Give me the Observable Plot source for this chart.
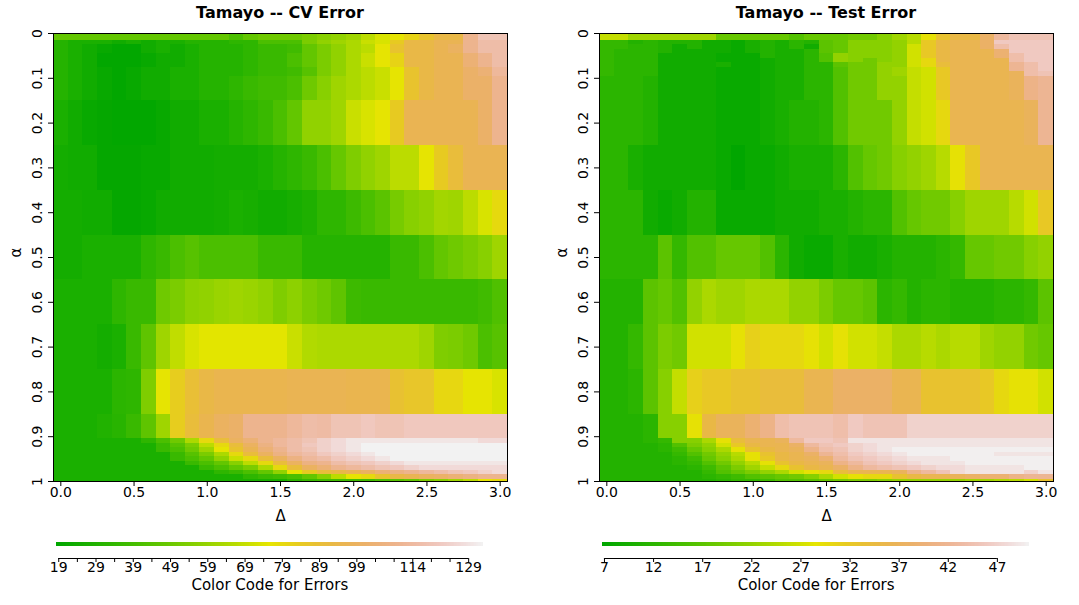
<!DOCTYPE html>
<html><head><meta charset="utf-8">
<script src="https://cdn.jsdelivr.net/npm/d3@7"></script>
<script src="https://cdn.jsdelivr.net/npm/@observablehq/plot@0.6"></script>
<style>
body{margin:0;background:#fff;width:1079px;height:605px;overflow:hidden;position:relative;font-family:"DejaVu Sans",sans-serif}
.panel{position:absolute;top:0;width:540px;height:605px}
.title{position:absolute;top:5px;left:0;width:560px;text-align:center;font:bold 16px "DejaVu Sans",sans-serif;line-height:1;color:#000}
.panel svg{position:absolute;left:0}
</style></head><body>
<div id="left" class="panel" style="left:0"></div>
<div id="right" class="panel" style="left:546px"></div>
<script>
// ---------- data ----------
const titles = ["Tamayo -- CV Error", "Tamayo -- Test Error"];
const deltas = [0,0.1,0.2,0.3,0.4,0.5,0.6,0.7,0.8,0.9,1,1.1,1.2,1.3,1.4,1.5,1.6,1.7,1.8,1.9,2,2.1,2.2,2.3,2.4,2.5,2.6,2.7,2.8,2.9,3];
const alphas = [0,0.01,0.02,0.03,0.04,0.05,0.06,0.07,0.08,0.09,0.1,0.2,0.3,0.4,0.5,0.6,0.7,0.8,0.9,0.91,0.92,0.93,0.94,0.95,0.96,0.97,0.98,0.99,1];
const xTicks = [0,0.5,1,1.5,2,2.5,3];
const yTicks = [0,0.1,0.2,0.3,0.4,0.5,0.6,0.7,0.8,0.9,1];
const yTickLabels = ["0","0.1","0.2","0.3","0.4","0.5","0.6","0.7","0.8","0.9","1"];
const cvRange = [18.4, 132.9];
const testRange = [6.8, 50.3];
const cvLegendTicks = [19,24,29,34,39,44,49,54,59,64,69,74,79,84,89,94,99,104,109,114,119,124,129];
const cvLegendLabels = [19,29,39,49,59,69,79,89,99,114,129];
const testLegendTicks = [7,12,17,22,27,32,37,42,47];
const testLegendLabels = [7,12,17,22,27,32,37,42,47];

// CV error, one row per alpha (top to bottom), one column per delta
const cvError = [
[47,47,47,47,47,47,47,47,47,47,47,47,41,47,50,50,50,53,56,58,61,67,73,76,81,87,93,93,110,119,119],
[47,47,47,47,47,47,47,47,47,47,47,47,41,47,50,50,50,53,56,58,61,67,73,76,81,87,93,93,110,119,119],
[30,27,27,27,24,27,24,27,27,30,30,30,33,33,41,41,41,53,58,61,64,70,73,84,93,93,96,96,110,116,116],
[30,27,24,21,19,19,24,27,24,27,30,30,30,33,36,36,38,47,53,58,64,67,76,87,93,93,96,99,110,116,116],
[30,27,24,21,19,19,24,27,24,27,30,30,30,33,36,36,38,47,53,58,64,67,76,87,93,93,96,99,110,116,116],
[30,27,24,19,19,19,21,24,24,27,30,30,30,33,36,36,41,47,53,58,64,70,76,81,93,93,96,96,104,110,116],
[30,27,24,19,19,19,21,24,24,27,30,30,30,33,36,36,41,47,53,58,64,70,76,81,93,93,96,96,104,110,116],
[30,27,24,19,19,19,21,24,24,27,30,30,30,33,36,36,41,47,53,58,64,70,76,81,93,93,96,96,104,110,116],
[30,27,24,21,19,21,24,24,27,27,30,30,30,33,36,36,38,44,53,58,64,67,70,76,87,93,96,96,101,104,113],
[30,27,24,21,19,21,24,24,27,27,30,30,30,33,36,36,38,44,53,58,64,67,70,76,87,93,96,96,101,104,113],
[30,27,24,21,19,21,24,24,27,27,30,30,33,36,38,38,41,50,56,61,64,67,70,76,87,93,96,96,101,101,110],
[27,24,21,20,19,19,19,21,24,24,27,27,30,33,36,41,47,58,58,61,70,73,76,84,96,96,96,96,96,101,110],
[25,24,24,20,20,20,21,21,24,24,24,25,25,25,27,30,33,36,41,48,54,58,61,67,67,76,84,90,96,96,96],
[25,25,24,24,20,20,21,24,24,24,24,25,27,26,24,24,26,28,33,33,37,41,45,52,56,58,62,61,67,73,79],
[25,25,27,27,27,27,33,36,41,44,41,41,41,41,36,36,36,30,30,30,30,30,30,36,36,41,47,50,53,56,61],
[27,27,27,27,33,36,36,50,53,57,58,60,61,60,58,54,57,53,50,46,37,36,36,36,36,36,36,36,36,38,42],
[27,27,27,25,27,36,46,61,68,73,75,75,75,75,75,75,70,65,64,64,64,64,64,64,64,61,54,53,50,41,44],
[27,27,27,27,32,33,54,76,83,89,93,95,95,95,95,95,96,96,96,96,95,95,95,88,86,86,80,80,76,76,73],
[27,27,27,29,31,36,46,61,83,90,95,99,101,110,110,110,113,116,115,119,119,121,119,119,121,121,121,121,121,121,121],
[27,27,27,27,27,27,33,41,50,64,79,90,99,104,110,113,116,119,124,127,130,130,130,130,130,130,130,130,130,127,127],
[27,27,27,27,27,27,27,36,44,53,67,79,90,99,107,113,116,121,124,127,130,133,133,133,133,133,133,133,133,133,133],
[27,27,27,27,27,27,27,36,41,50,61,76,87,96,104,110,116,119,124,127,130,133,133,133,133,133,133,133,133,133,133],
[27,27,27,27,27,27,27,27,36,44,53,64,79,90,99,107,113,116,121,124,127,130,133,133,133,133,133,133,133,133,133],
[27,27,27,27,27,27,27,27,36,41,47,58,70,79,90,99,107,113,116,121,124,127,130,133,133,133,133,133,133,133,133],
[27,27,27,27,27,27,27,27,27,36,41,47,56,67,79,90,99,107,110,116,119,121,124,127,130,130,130,130,130,130,130],
[27,27,27,27,27,27,27,27,27,27,36,41,47,53,64,79,90,99,104,110,113,116,119,121,124,127,127,127,127,127,127],
[27,27,27,27,27,27,27,27,27,27,27,33,36,41,47,58,76,84,90,93,96,99,104,107,110,113,116,119,121,124,127],
[27,27,27,27,27,27,27,27,27,27,27,27,27,33,36,38,41,47,56,67,76,79,87,93,96,99,101,104,107,110,110],
[27,27,27,27,27,27,27,27,27,27,27,27,27,27,27,27,33,36,38,38,38,38,41,44,47,53,56,61,67,76,79]
];

// Test error, same layout
const testError = [
[26,26,23,23,23,23,23,23,18,18,18,18,18,16,18,18,18,19,19,21,23,25,29,33,35,35,38,43,45,45,45],
[26,26,23,23,23,23,23,23,18,18,18,18,18,16,18,18,18,19,19,21,23,25,29,33,35,35,38,43,45,45,45],
[13,13,11,12,11,11,11,9,9,8,10,11,10,12,11,17,18,21,21,21,22,25,32,35,36,36,38,46,46,46,46],
[13,13,12,12,11,9,11,9,9,8,10,11,10,12,9,17,18,21,21,21,22,27,32,35,36,36,38,44,46,46,46],
[13,12,12,12,11,9,9,9,9,8,10,11,10,10,12,17,18,21,21,21,22,27,32,35,36,36,36,39,46,46,46],
[13,12,12,12,9,9,9,9,8,8,8,11,10,10,12,16,22,21,21,21,22,27,32,35,36,36,36,39,44,46,46],
[13,12,12,12,9,9,9,9,8,8,8,9,10,10,12,16,22,21,19,21,22,27,30,35,36,36,36,36,44,46,46],
[13,12,12,12,9,9,9,9,10,8,8,9,10,10,12,12,17,19,19,22,22,27,30,34,36,36,36,36,42,44,46],
[13,12,12,12,9,9,9,9,8,8,8,9,10,10,12,12,16,19,19,22,23,26,27,32,36,36,36,36,42,44,46],
[13,12,12,12,9,9,9,9,8,8,8,9,10,10,12,12,16,19,19,22,23,26,27,32,36,36,36,36,37,44,45],
[12,12,12,11,9,9,9,9,8,8,8,9,10,10,12,12,16,19,19,22,22,26,27,32,36,36,36,36,37,41,42],
[12,12,12,11,9,9,9,9,8,8,8,9,10,11,11,12,16,19,19,19,22,26,27,30,36,36,36,36,36,37,42],
[12,12,10,9,9,9,9,9,8,7,8,8,9,10,10,10,12,16,18,19,21,22,23,25,29,32,36,36,36,36,36],
[12,12,12,9,8,9,11,11,8,8,8,8,9,9,9,10,10,11,12,12,16,18,19,19,21,23,23,23,25,27,32],
[12,12,12,12,17,13,16,16,18,18,18,16,12,9,8,8,10,9,9,10,11,11,11,12,13,18,18,19,19,21,22],
[11,11,11,17,18,16,22,24,23,23,24,24,24,22,22,20,18,18,17,12,13,11,12,12,11,11,11,12,12,13,17],
[11,11,13,17,20,19,27,27,27,29,31,30,30,30,29,27,29,27,27,26,24,24,25,24,25,25,23,22,22,19,18],
[11,11,12,17,21,26,31,32,32,33,33,34,34,34,36,36,38,38,38,38,36,36,33,33,33,33,32,30,29,29,27],
[11,11,11,12,21,21,29,35,37,37,39,41,44,45,45,45,44,46,45,45,45,47,47,47,47,47,47,47,47,47,47],
[11,11,11,12,13,21,21,24,29,34,36,36,37,43,46,46,45,49,49,49,49,49,49,49,49,49,49,49,49,49,49],
[11,11,11,11,12,16,20,22,27,32,35,36,36,38,43,45,46,47,48,49,49,49,49,49,49,49,49,49,49,49,49],
[11,11,11,11,12,14,18,21,24,29,33,35,36,37,41,44,45,47,48,49,50,50,50,50,50,50,50,50,50,50,50],
[11,11,11,11,11,13,16,19,22,25,29,33,35,36,38,42,44,46,47,48,49,50,50,50,50,50,50,49,49,49,49],
[11,11,11,11,11,12,14,18,21,24,29,32,35,36,37,39,43,45,46,47,48,49,49,49,50,50,50,50,50,50,50],
[11,11,11,11,11,12,13,16,19,22,25,29,33,35,36,37,41,43,45,46,47,48,49,49,49,50,50,50,50,50,50],
[11,11,11,11,11,11,12,14,17,20,23,26,30,33,35,36,38,41,43,44,45,46,47,48,48,49,49,49,49,50,50],
[11,11,11,11,11,11,11,13,16,18,20,22,24,27,29,30,34,36,36,36,37,41,43,45,48,49,49,49,49,47,49],
[11,11,11,11,11,11,11,12,13,14,16,17,18,19,21,24,27,29,30,30,33,35,36,36,37,38,39,39,41,42,42],
[11,11,11,11,11,11,11,11,12,13,13,14,16,16,17,18,19,20,20,21,22,22,22,22,22,23,23,24,25,27,33]
];

// ---------- styling helpers ----------
function hsv(h, s, v) {
  const i = Math.floor(h * 6), f = h * 6 - i;
  const p = v * (1 - s), q = v * (1 - f * s), t = v * (1 - (1 - f) * s);
  let r, g, b;
  switch (((i % 6) + 6) % 6) {
    case 0: r = v; g = t; b = p; break;
    case 1: r = q; g = v; b = p; break;
    case 2: r = p; g = v; b = t; break;
    case 3: r = p; g = q; b = v; break;
    case 4: r = t; g = p; b = v; break;
    default: r = v; g = p; b = q;
  }
  return d3.rgb(r * 255, g * 255, b * 255).formatHex();
}
// R terrain.colors ramp
function terrain(t) {
  if (t <= 0.5) { const u = t / 0.5; return hsv(4/12 - 2/12 * u, 1, 0.65 + 0.25 * u); }
  const u = (t - 0.5) / 0.5; return hsv(2/12 - 2/12 * u, 1 - u, 0.9 + 0.05 * u);
}
const palette = d3.range(101).map(i => terrain(i / 100));
const fontStyle = {fontFamily: '"DejaVu Sans", sans-serif', fontSize: "14px", color: "black", background: "transparent"};

function edges(vals, i) {
  const lo = i === 0 ? vals[0] - (vals[1] - vals[0]) / 2 : (vals[i - 1] + vals[i]) / 2;
  const hi = i === vals.length - 1 ? vals[i] + (vals[i] - vals[i - 1]) / 2 : (vals[i] + vals[i + 1]) / 2;
  return [lo, hi];
}

function heatmap(values, range) {
  const cells = [];
  alphas.forEach((a, i) => {
    const [y1, y2] = edges(alphas, i);
    deltas.forEach((d, j) => {
      const [x1, x2] = edges(deltas, j);
      cells.push({x1, x2, y1, y2, err: values[i][j]});
    });
  });
  return Plot.plot({
    width: 540, height: 530,
    marginTop: 33, marginBottom: 49, marginLeft: 53, marginRight: 33,
    style: fontStyle,
    x: {domain: [d3.min(cells, c => c.x1), d3.max(cells, c => c.x2)]},
    y: {domain: [alphas[0], alphas[alphas.length - 1]], reverse: true},
    color: {type: "linear", domain: range, range: palette},
    marks: [
      Plot.rect(cells, {x1: "x1", x2: "x2", y1: "y1", y2: "y2", fill: "err", clip: true, shapeRendering: "crispEdges"}),
      Plot.frame({stroke: "black"}),
      Plot.axisX({ticks: xTicks, tickFormat: d3.format(".1f"), tickSize: 5, tickPadding: 1, label: null}),
      Plot.axisY({ticks: yTicks, tickSize: 5, tickFormat: () => "", label: null}),
      Plot.text(yTicks, {y: d => d, text: (d, i) => yTickLabels[i], frameAnchor: "left", dx: -12, rotate: -90, textAnchor: "middle", lineAnchor: "bottom"}),
      Plot.text(["α"], {frameAnchor: "left", dx: -37, rotate: -90, lineAnchor: "middle", fontSize: 15}),
      Plot.text(["Δ"], {frameAnchor: "bottom", dy: 34.5, lineAnchor: "middle", fontSize: 15})
    ]
  });
}

function legend(range, ticks, labels, marginRight) {
  const [lo, hi] = range, n = 300;
  const grad = d3.range(n).map(i => ({a: lo + (hi - lo) * i / n, b: lo + (hi - lo) * (i + 1) / n}));
  return Plot.plot({
    width: 540, height: 75,
    marginTop: 12, marginBottom: 47, marginLeft: 56, marginRight,
    style: fontStyle,
    x: {domain: range},
    y: {domain: [0, 1], axis: null},
    color: {type: "linear", domain: range, range: palette},
    marks: [
      Plot.rect(grad, {x1: "a", x2: "b", y1: 0.75, y2: 1, fill: d => (d.a + d.b) / 2, shapeRendering: "crispEdges"}),
      Plot.ruleY([0], {x1: ticks[0], x2: ticks[ticks.length - 1], stroke: "black"}),
      Plot.axisX({ticks, tickFormat: d => labels.includes(d) ? String(d) : "", tickSize: 4, tickPadding: 0, label: null}),
      Plot.text(["Color Code for Errors"], {frameAnchor: "bottom", dy: 27, lineAnchor: "middle", fontSize: 15})
    ]
  });
}

function panel(id, title, values, range, ticks, labels, mr) {
  const el = document.getElementById(id);
  const t = document.createElement("div");
  t.className = "title"; t.textContent = title;
  el.appendChild(t);
  const hm = heatmap(values, range);
  hm.style.top = "0px";
  el.appendChild(hm);
  const lg = legend(range, ticks, labels, mr);
  lg.style.top = "530px";
  el.appendChild(lg);
}

panel("left", titles[0], cvError, cvRange, cvLegendTicks, cvLegendLabels, 57.3);
panel("right", titles[1], testError, testRange, testLegendTicks, testLegendLabels, 56.7);
</script>
</body></html>
